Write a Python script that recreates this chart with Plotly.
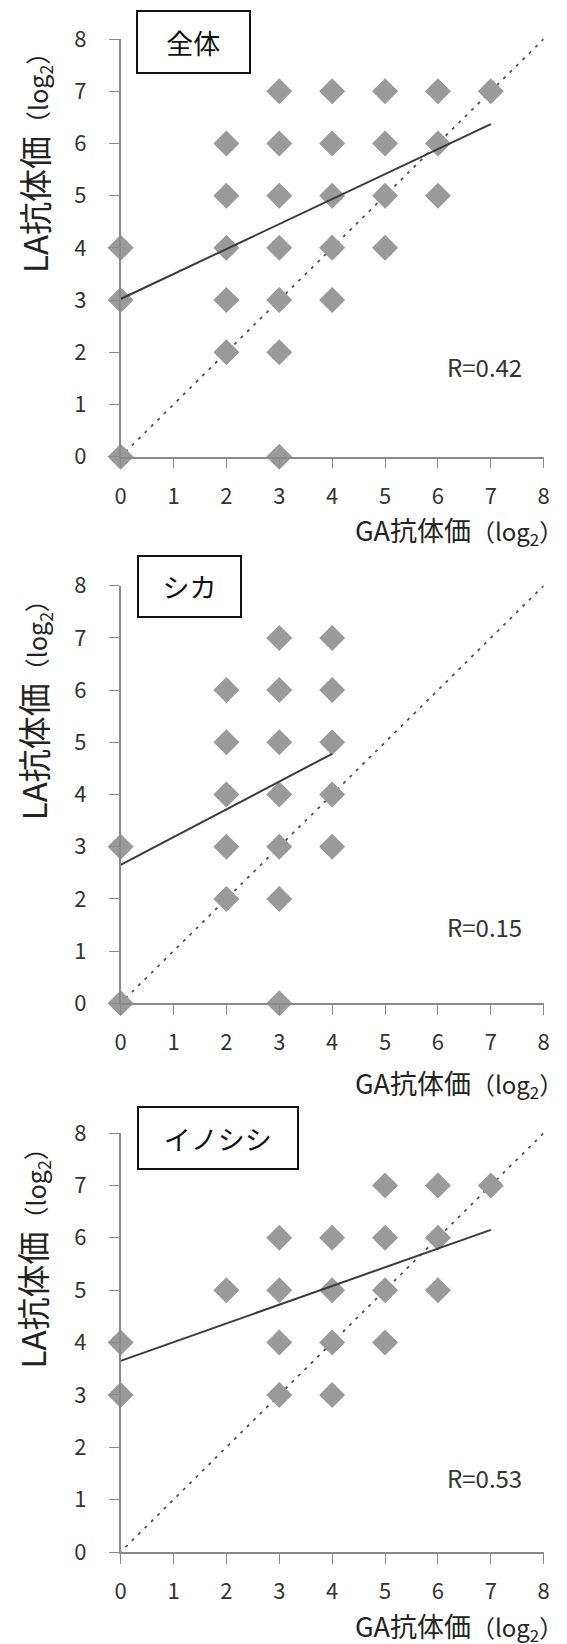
import plotly.graph_objects as go

# ---- data ----
panel_names = ["全体", "シカ", "イノシシ"]
r_labels = ["R=0.42", "R=0.15", "R=0.53"]
r_pos_y = [1.72, 1.47, 1.43]

all_ga = [3, 4, 5, 6, 7, 2, 3, 4, 5, 6, 2, 3, 4, 5, 6, 0, 2, 3, 4, 5, 0, 2, 3, 4, 2, 3, 0, 3]
all_la = [7, 7, 7, 7, 7, 6, 6, 6, 6, 6, 5, 5, 5, 5, 5, 4, 4, 4, 4, 4, 3, 3, 3, 3, 2, 2, 0, 0]

deer_ga = [3, 4, 2, 3, 4, 2, 3, 4, 2, 3, 4, 0, 2, 3, 4, 2, 3, 0, 3]
deer_la = [7, 7, 6, 6, 6, 5, 5, 5, 4, 4, 4, 3, 3, 3, 3, 2, 2, 0, 0]

boar_ga = [5, 6, 7, 3, 4, 5, 6, 2, 3, 4, 5, 6, 0, 3, 4, 5, 0, 3, 4]
boar_la = [7, 7, 7, 6, 6, 6, 6, 5, 5, 5, 5, 5, 4, 4, 4, 4, 3, 3, 3]

fit_all_x = [0, 7]
fit_all_y = [3.02, 6.37]
fit_deer_x = [0, 4]
fit_deer_y = [2.65, 4.78]
fit_boar_x = [0, 7]
fit_boar_y = [3.65, 6.15]

diag = [-0.15, 8.1]

ticks = [0, 1, 2, 3, 4, 5, 6, 7, 8]

panels = [
    (all_ga, all_la, fit_all_x, fit_all_y),
    (deer_ga, deer_la, fit_deer_x, fit_deer_y),
    (boar_ga, boar_la, fit_boar_x, fit_boar_y),
]

# ---- layout geometry (page pixels) ----
W, H = 567, 1644
OFF = 8  # default page margin around the plot div
plot_left, plot_right = 120.6, 543.7
plot_tb = [(39, 456.7), (585.7, 1003.3), (1133, 1552)]
box_geom = [(136, 10, 114.7, 64), (136.7, 555, 105, 63.3), (137, 1106, 161.7, 64.3)]
ytitle_pos = [(33.3, 156.7), (33.3, 704), (31, 1252.5)]
xtitle_pos = [(565, 531), (565, 1083), (565, 1626)]


def px(x):
    return (x - OFF) / W


def py(y):
    return 1 - (y - OFF) / H


FONT = "Noto Sans CJK JP"
fig = go.Figure()
annotations = []

for i, (gx, ly, fx, fy) in enumerate(panels):
    n = "" if i == 0 else str(i + 1)
    xa, ya = "x" + n, "y" + n
    fig.add_trace(go.Scatter(x=diag, y=diag, mode="lines", xaxis=xa, yaxis=ya,
                             line=dict(color="#505050", width=1.8, dash="3px,6px"),
                             cliponaxis=False, showlegend=False, hoverinfo="skip"))
    fig.add_trace(go.Scatter(x=gx, y=ly, mode="markers", xaxis=xa, yaxis=ya,
                             marker=dict(symbol="diamond", size=20, color="#9a9a9a",
                                         line=dict(width=0)),
                             cliponaxis=False, showlegend=False))
    fig.add_trace(go.Scatter(x=fx, y=fy, mode="lines", xaxis=xa, yaxis=ya,
                             line=dict(color="#3a3a3a", width=2),
                             cliponaxis=False, showlegend=False, hoverinfo="skip"))

    top, bot = plot_tb[i]
    axis_common = dict(range=[0, 8], tickvals=ticks, showgrid=False, zeroline=False,
                       automargin=False,
                       showline=True, linecolor="#8a8a8a", linewidth=1.5,
                       ticks="outside", ticklen=10, tickcolor="#8a8a8a", tickwidth=1.2,
                       tickfont=dict(family=FONT, size=22, color="#333333"))
    fig.update_layout(**{
        "xaxis" + n: dict(domain=[px(plot_left), px(plot_right)], anchor=ya,
                          ticklabelstandoff=9, **axis_common),
        "yaxis" + n: dict(domain=[py(bot), py(top)], anchor=xa,
                          ticklabelstandoff=18, **axis_common),
    })

    bx, by, bw, bh = box_geom[i]
    annotations.append(dict(text=panel_names[i], xref="paper", yref="paper",
                            x=px(bx), y=py(by), xanchor="left", yanchor="top",
                            width=bw - 4, height=bh - 4, borderpad=0, align="center",
                            showarrow=False, bordercolor="#111111", borderwidth=2,
                            bgcolor="white", font=dict(family=FONT, size=27, color="#111111")))
    annotations.append(dict(text=r_labels[i], xref=xa, yref=ya, x=6.88, y=r_pos_y[i],
                            showarrow=False, font=dict(family=FONT, size=24, color="#333333")))
    tx, ty = ytitle_pos[i]
    annotations.append(dict(text="LA抗体価<span style=\"font-size:25px\">（log<sub>2</sub>）</span>",
                            xref="paper", yref="paper",
                            x=px(tx), y=py(ty), xanchor="center", yanchor="middle",
                            textangle=-90, showarrow=False,
                            font=dict(family=FONT, size=33, color="#222222")))
    tx, ty = xtitle_pos[i]
    annotations.append(dict(text="GA抗体価<span style=\"font-size:24px\">（log<sub>2</sub>）</span>",
                            xref="paper", yref="paper",
                            x=px(tx), y=py(ty), xanchor="right", yanchor="middle",
                            showarrow=False,
                            font=dict(family=FONT, size=27, color="#222222")))

fig.update_layout(width=W, height=H, margin=dict(l=0, r=0, t=0, b=0),
                  paper_bgcolor="white", plot_bgcolor="white",
                  annotations=annotations, showlegend=False)

fig.write_html("out.html")
